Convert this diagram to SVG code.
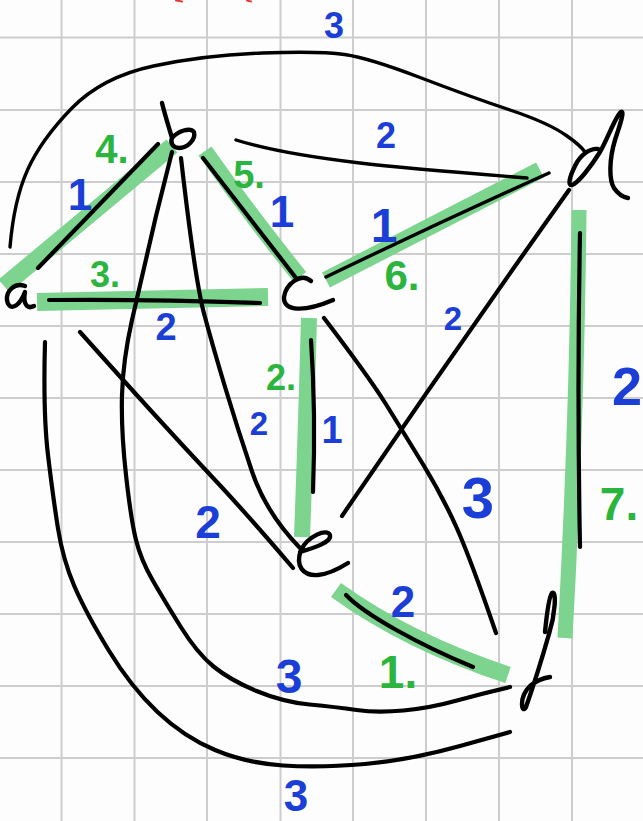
<svg xmlns="http://www.w3.org/2000/svg" width="643" height="821" viewBox="0 0 643 821">
<style>
.grid{stroke:#cdcdcd;stroke-width:2;fill:none}
.hl{stroke:#7dd48e;stroke-width:17;fill:none;stroke-linecap:butt;stroke-linejoin:round}
.ln{stroke:#000;stroke-width:4.2;fill:none;stroke-linecap:round;stroke-linejoin:round}
.thin{stroke-width:3.4}
.let{stroke:#000;stroke-width:4.4;fill:none;stroke-linecap:round;stroke-linejoin:round}
.w{font-family:"Liberation Sans",Arial,sans-serif;fill:#1a3ed6;text-anchor:middle;font-weight:bold}
.s{font-family:"Liberation Sans",Arial,sans-serif;fill:#2bb53e;text-anchor:middle;font-weight:bold}
</style>
<rect width="643" height="821" fill="#fdfdfd"/>
<g id="grid" class="grid">
<path d="M61.5,0V821M134.5,0V821M207,0V821M280.5,0V821M353,0V821M426,0V821M499,0V821M572,0V821"/>
<path d="M0,37.5H643M0,110H643M0,182H643M0,254H643M0,326H643M0,398H643M0,470H643M0,542H643M0,614H643M0,686H643M0,758H643"/>
</g>
<g id="red-marks" stroke="#e53935" stroke-width="2" fill="none" stroke-linecap="round">
<path d="M176,0.5L182,1.5"/><path d="M247,0.5L251,1.5"/>
</g>
<g id="highlights" class="hl">
<path d="M4,286L172,146"/>
<path d="M205,151Q250,215 300,277" style="stroke-width:16"/>
<path d="M37,302L268,297" style="stroke-width:18"/>
<path d="M326,280L540,170"/>
<path d="M309,318Q306,430 302,537" style="stroke-width:16"/>
<path d="M579,210Q577,420 565,638" style="stroke-width:15"/>
<path d="M336,590Q408,642 508,675"/>
</g>
<g id="connectors">
<path id="e-a-d" class="ln thin" d="M10,247Q14,200 27.5,170Q41,140 71.5,108.5Q102,77 153.5,66Q205,55 262.5,53Q320,51 344.5,54.5Q369,58 420,77.5Q471,97 510,110Q549,123 567,136Q580,145 585,152"/>
<path id="e-a-b" class="ln" d="M38,268L158,144"/>
<path id="e-a-c" class="ln" d="M49,300Q150,299 260,303"/>
<path id="e-b-c" class="ln" d="M203,158L296,278"/>
<path id="e-b-d" class="ln thin" d="M236,140C300,160 400,168 527,178"/>
<path id="e-c-d" class="ln thin" d="M326,277Q440,222 549,173"/>
<path id="e-b-f" class="ln" d="M172,152L156,216Q141,280 132,320Q123,360 122,395Q121,430 126,475Q131,520 136,540Q141,560 152.5,580Q164,600 180.5,626.5Q197,653 213.5,666.5Q230,680 256.5,691Q283,702 309.5,704.5Q336,707 356.5,710Q377,713 403.5,710.5Q430,708 457,700.5Q484,693 510,687"/>
<path id="e-a-f" class="ln" d="M45,342Q43,413 48,455Q53,497 58,528.5Q63,560 74.5,586.5Q86,613 108.5,650Q131,687 157.5,712Q184,737 215,750Q246,763 283,765.5Q320,768 365,764Q410,760 460,746L510,732"/>
<path id="e-b-e" class="ln" d="M181,158Q195,280 204,313.5Q213,347 225.5,388.5Q238,430 252,471.5Q266,513 300,548"/>
<path id="e-a-e" class="ln" d="M80,332Q123,380 153.5,413.5Q184,447 215,480Q246,513 293,568"/>
<path id="e-c-e" class="ln" d="M311,340Q316,413 313,492"/>
<path id="e-c-f" class="ln" d="M324,318Q369,377 385.5,403.5Q402,430 422.5,463.5Q443,497 457,528.5Q471,560 496,633"/>
<path id="e-d-e" class="ln" d="M569,190Q455,350 342,516"/>
<path id="e-d-f" class="ln" d="M580,233Q577,390 580,547"/>
<path id="e-e-f" class="ln" d="M346,595C365,615 420,645 473,667"/>
<g id="weights">
<text class="w" x="334" y="38" font-size="36">3</text>
<text class="w" x="386" y="148" font-size="36">2</text>
<text class="w" x="80" y="210" font-size="44">1</text>
<text class="w" x="282" y="227" font-size="44">1</text>
<text class="w" x="384" y="242" font-size="48">1</text>
<text class="w" x="166" y="340" font-size="38">2</text>
<text class="w" x="453" y="330" font-size="33">2</text>
<text class="w" x="332" y="443" font-size="38">1</text>
<text class="w" x="259" y="435" font-size="33">2</text>
<text class="w" x="208" y="538" font-size="46">2</text>
<text class="w" x="478" y="518" font-size="58">3</text>
<text class="w" x="627" y="405" font-size="54">2</text>
<text class="w" x="403" y="617" font-size="44">2</text>
<text class="w" x="289" y="693" font-size="48">3</text>
<text class="w" x="296" y="811" font-size="44">3</text>
</g>
<g id="order">
<text class="s" x="112" y="163" font-size="40">4.</text>
<text class="s" x="249" y="188" font-size="38">5.</text>
<text class="s" x="105" y="287" font-size="36">3.</text>
<text class="s" x="402" y="290" font-size="42">6.</text>
<text class="s" x="281" y="390" font-size="36">2.</text>
<text class="s" x="619" y="520" font-size="46">7.</text>
<text class="s" x="398" y="688" font-size="46">1.</text>
</g>
</g>
<g id="node-a"><path class="let" d="M25,286C14,282 6,292 7,300C8,310 18,310 25,292C23,302 26,310 34,306"/></g>
<g id="node-b"><path class="let" d="M162,103C165,115 169,128 172,138C178,131 190,127 194,132C196,140 187,148 179,148C173,148 170,143 172,138"/></g>
<g id="node-c"><path class="let" d="M311,281C301,272 286,284 284,297C283,312 305,312 333,300"/></g>
<g id="node-d"><path class="let" d="M598,149C590,148 580,155 575,166C570,176 567,186 572,185C578,183 590,168 600,152C608,138 616,115 621,112C625,110 620,125 615,140C609,160 609,180 614,188C618,194 623,197 628,198"/></g>
<g id="node-e"><path class="let" d="M300,552C314,548 332,542 330,535C327,528 308,536 301,550C295,566 303,576 318,575C330,574 340,568 348,563"/></g>
<g id="node-f"><path class="let" d="M545,632C547,612 549,596 552,593C557,590 555,615 549,634C543,655 532,690 526,707C522,715 518,698 530,686C537,680 544,678 550,677"/></g>
</svg>
